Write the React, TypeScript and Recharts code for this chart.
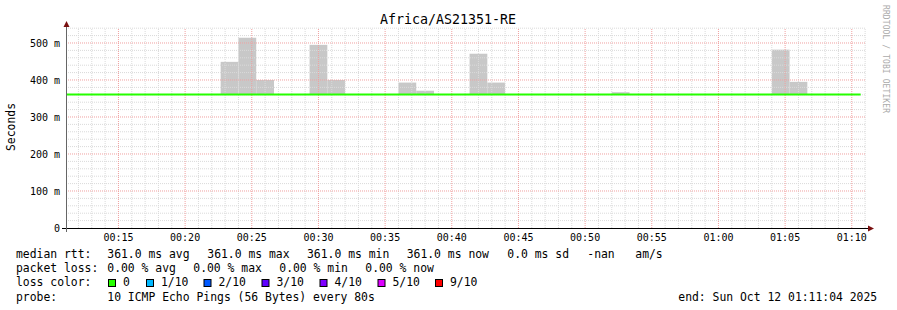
import React from 'react';
import {
  ComposedChart,
  Line,
  XAxis,
  YAxis,
  ReferenceArea,
  ReferenceLine,
} from 'recharts';

// smoke (gray) bins: start time and top value in ms, each bin is 80 s wide
const smokeStart = [
  '00:22:40', '00:24:00', '00:25:20', '00:29:20', '00:30:40', '00:36:00',
  '00:37:20', '00:41:20', '00:42:40', '00:52:00', '01:04:00', '01:05:20',
];
const smokeTop = [449, 514, 400, 495, 400, 393, 371, 471, 393, 367, 482, 395];
const smokeStep = 80;

// median rtt (ms) - flat green line
const medianTimes = ['00:11:04', '01:10:40'];
const medianValues = [361, 361];

const xTickLabels = [
  '00:15', '00:20', '00:25', '00:30', '00:35', '00:40',
  '00:45', '00:50', '00:55', '01:00', '01:05', '01:10',
];
const yTickValues = [0, 100, 200, 300, 400, 500];
const xMinorLabels = [
  '00:12', '00:13', '00:14', '00:16', '00:17', '00:18', '00:19', '00:21', '00:22', '00:23', '00:24',
  '00:26', '00:27', '00:28', '00:29', '00:31', '00:32', '00:33', '00:34', '00:36', '00:37', '00:38', '00:39',
  '00:41', '00:42', '00:43', '00:44', '00:46', '00:47', '00:48', '00:49', '00:51', '00:52', '00:53', '00:54',
  '00:56', '00:57', '00:58', '00:59', '01:01', '01:02', '01:03', '01:04', '01:06', '01:07', '01:08', '01:09',
  '01:11',
];
const yMinorValues = [
  20, 40, 60, 80, 120, 140, 160, 180, 220, 240, 260, 280, 320, 340, 360, 380,
  420, 440, 460, 480, 520, 540,
];

const lossColors = ['#26ff00', '#00b8ff', '#0059ff', '#5e00ff', '#7e00ff', '#dd00ff', '#ff0000'];
const lossLabels = ['0', '1/10', '2/10', '3/10', '4/10', '5/10', '9/10'];

const toSec = (s: string) => {
  const [h, m, sec] = s.split(':').map(Number);
  return h * 3600 + m * 60 + (sec || 0);
};
const fmtTime = (v: number) => {
  const h = Math.floor(v / 3600);
  const m = Math.floor((v % 3600) / 60);
  return `${String(h).padStart(2, '0')}:${String(m).padStart(2, '0')}`;
};

const START = toSec('00:11:04');
const END = toSec('01:11:04');
const MONO = 'DejaVu Sans Mono';

const medianData = medianTimes.map((t, i) => ({ t: toSec(t), v: medianValues[i] }));

export default function App() {
  const minorColor = '#dadada';
  const majorColor = '#f0a0a0';
  const lossX = [108, 146, 203.5, 261.5, 319.5, 377.5, 435];

  return (
    <div style={{ position: 'absolute', left: 0, top: 0, width: 897, height: 310, background: '#fff' }}>
      <ComposedChart
        width={897}
        height={310}
        data={medianData}
        margin={{ top: 28, right: 31, bottom: 62, left: 0 }}
      >
        <XAxis
          dataKey="t"
          type="number"
          domain={[START, END]}
          allowDataOverflow
          ticks={xTickLabels.map((l) => toSec(l))}
          tickFormatter={fmtTime}
          height={20}
          axisLine={false}
          tickLine={false}
          tickSize={4}
          tickMargin={2}
          interval={0}
          tick={{ fontSize: 10, fontFamily: MONO, fill: '#000' }}
        />
        <YAxis
          type="number"
          domain={[0, 540.5]}
          allowDataOverflow
          ticks={yTickValues}
          tickFormatter={(v: number) => (v === 0 ? '0' : `${v} m`)}
          width={66}
          axisLine={false}
          tickLine={false}
          tickSize={4}
          tickMargin={2}
          interval={0}
          tick={{ fontSize: 10, fontFamily: MONO, fill: '#000' }}
        />

        {/* smoke */}
        {smokeStart.map((s, i) => (
          <ReferenceArea
            key={'s' + i}
            x1={toSec(s)}
            x2={toSec(s) + smokeStep}
            y1={medianValues[0]}
            y2={smokeTop[i]}
            fill="#c8c8c8"
            fillOpacity={1}
            stroke="none"
          />
        ))}

        {/* minor grid */}
        {xMinorLabels.map((l) => (
          <ReferenceLine key={'xm' + l} x={toSec(l)} stroke={minorColor} strokeDasharray="1 1" />
        ))}
        {yMinorValues.map((v) => (
          <ReferenceLine key={'ym' + v} y={v} stroke={minorColor} strokeDasharray="1 1" />
        ))}
        {/* major grid */}
        {xTickLabels.map((l) => (
          <ReferenceLine key={'xM' + l} x={toSec(l)} stroke={majorColor} strokeDasharray="1 1" />
        ))}
        {yTickValues.slice(1).map((v) => (
          <ReferenceLine key={'yM' + v} y={v} stroke={majorColor} strokeDasharray="1 1" />
        ))}

        <Line
          dataKey="v"
          type="linear"
          stroke="#26ff00"
          strokeWidth={2}
          dot={false}
          isAnimationActive={false}
        />
      </ComposedChart>

      <svg
        width={897}
        height={310}
        style={{ position: 'absolute', left: 0, top: 0, pointerEvents: 'none' }}
        fontFamily={MONO}
      >
        {/* axes */}
        <line x1={62} y1={228.5} x2={869} y2={228.5} stroke="#000" />
        <polygon points="868,225.5 874,228.5 868,231.5" fill="#7a1010" />
        <line x1={66.5} y1={232} x2={66.5} y2={26} stroke="#666" />
        <polygon points="63.5,27 66.5,21 69.5,27" fill="#7a1010" />

        <text x={448} y={24} fontSize={13.3} textAnchor="middle" fill="#000">
          Africa/AS21351-RE
        </text>
        <text
          transform="translate(11,127) rotate(-90)"
          fontSize={11.4}
          textAnchor="middle"
          dominantBaseline="central"
          fill="#000"
        >
          Seconds
        </text>
        <text
          transform="translate(883,5) rotate(90)"
          fontSize={8}
          fill="#aaa"
          textLength={108}
        >
          RRDTOOL / TOBI OETIKER
        </text>

        <g fontSize={11.4} fill="#000">
          <text x={16} y={258}>median rtt:</text>
          <text x={107.3} y={258}>361.0 ms avg</text>
          <text x={207.3} y={258}>361.0 ms max</text>
          <text x={307} y={258}>361.0 ms min</text>
          <text x={406.7} y={258}>361.0 ms now</text>
          <text x={507.3} y={258}>0.0 ms sd</text>
          <text x={587.3} y={258}>-nan</text>
          <text x={635.3} y={258}>am/s</text>

          <text x={16} y={272}>packet loss:</text>
          <text x={107.3} y={272}>0.00 % avg</text>
          <text x={193.3} y={272}>0.00 % max</text>
          <text x={279.3} y={272}>0.00 % min</text>
          <text x={365.3} y={272}>0.00 % now</text>

          <text x={16} y={286}>loss color:</text>
          {lossColors.map((c, i) => (
            <g key={c}>
              <rect x={lossX[i] + 0.5} y={279.5} width={7} height={7} fill={c} stroke="#000" />
              <text x={lossX[i] + 15} y={286}>{lossLabels[i]}</text>
            </g>
          ))}

          <text x={16} y={300.5}>probe:</text>
          <text x={107.3} y={300.5}>10 ICMP Echo Pings (56 Bytes) every 80s</text>
          <text x={678.3} y={300.5}>end: Sun Oct 12 01:11:04 2025</text>
        </g>
      </svg>
    </div>
  );
}
